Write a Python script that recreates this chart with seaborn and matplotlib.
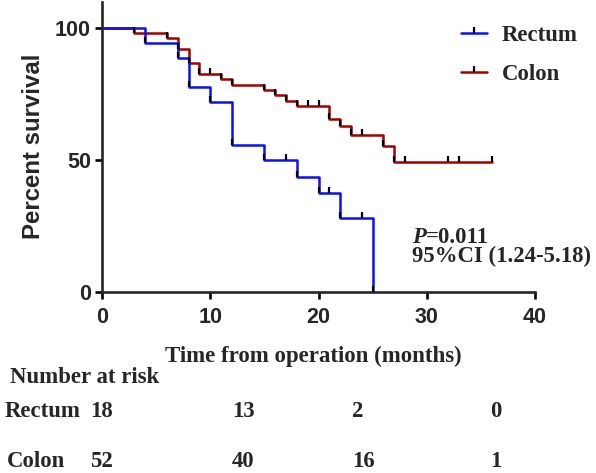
import pandas as pd
import seaborn as sns
import matplotlib.pyplot as plt
import matplotlib.transforms as mtransforms
from matplotlib.lines import Line2D

# Kaplan-Meier steps (months, percent survival)
rectum_months = [0, 4, 7, 8, 10, 12, 15, 17, 18, 20, 21, 22, 24, 25]
rectum_survival = [100, 94.4, 88.9, 77.8, 72.2, 55.6, 50.0, 50.0, 43.8, 37.5, 37.5, 28.1, 28.1, 0]

colon_months = [0, 3, 6, 7, 8, 9, 10, 11, 12, 15, 16, 17, 18, 19, 20, 21, 22, 23, 24,
                26, 27, 28, 32, 33, 36]
colon_survival = [100, 98.1, 96.2, 92.3, 86.9, 82.7, 82.7, 80.7, 78.7, 76.7, 74.7, 72.6,
                  70.6, 70.6, 70.6, 65.7, 62.9, 59.4, 59.4, 55.3, 49.4, 49.4, 49.4, 49.4, 49.4]

groups = ['Rectum', 'Colon']
group_colors = {'Rectum': '#0a10f2', 'Colon': '#a10000'}

# number at risk table
rectum_at_risk = ['18', '13', '2', '0']
colon_at_risk = ['52', '40', '16', '1']

p_text = '=0.011'
ci_text = '95%CI (1.24-5.18)'

sns.set_style('ticks')
plt.rcParams['font.family'] = ['Liberation Sans', 'DejaVu Sans']
serif = ['Liberation Serif', 'DejaVu Serif']

df = pd.concat([
    pd.DataFrame({'month': rectum_months, 'survival': rectum_survival, 'group': 'Rectum'}),
    pd.DataFrame({'month': colon_months, 'survival': colon_survival, 'group': 'Colon'}),
])

fig = plt.figure(figsize=(5.96, 4.73), dpi=100)
ax = fig.add_axes([102 / 596, 1 - 292 / 473, (535 - 102) / 596, 290 / 473])

# curves (colon first so rectum sits on top)
sns.lineplot(data=df, x='month', y='survival', hue='group', hue_order=['Colon', 'Rectum'],
             palette=group_colors, estimator=None, drawstyle='steps-post', linewidth=1.8,
             legend=False, ax=ax)

# black tick marks at every event / censor point
for g in ['Colon', 'Rectum']:
    sub = df[df['group'] == g].iloc[1:]
    ax.plot(sub['month'], sub['survival'], linestyle='none', marker=2, markersize=4,
            markeredgewidth=1.6, color='black', zorder=5)

ax.set_xlim(0, 40)
ax.set_ylim(0, 110)
ax.set_xticks([0, 10, 20, 30, 40])
ax.set_yticks([0, 50, 100])
sns.despine(ax=ax)
for s in ['left', 'bottom']:
    ax.spines[s].set_linewidth(1.9)
ax.tick_params(length=5, width=1.9, labelsize=15.5, color='black')
ax.tick_params(axis='x', pad=6)
ax.tick_params(axis='y', pad=3)
for lab in ax.get_xticklabels() + ax.get_yticklabels():
    lab.set_fontweight('bold')

# axis labels
ax.set_ylabel('Percent survival', fontsize=17.3, fontweight='bold')
ax.yaxis.set_label_coords(34 / 596, 1 - 146 / 473, transform=fig.transFigure)
ax.yaxis.label.set_verticalalignment('center')

ax.set_xlabel('Time from operation (months)', fontsize=16.5, fontweight='bold', family=serif)
ax.xaxis.set_label_coords(313 / 596, 1 - 362 / 473, transform=fig.transFigure)
ax.xaxis.label.set_verticalalignment('baseline')

# legend
handles = [Line2D([], [], color=group_colors[g], linewidth=1.8, marker=2, markersize=4,
                  markeredgewidth=1.6, markeredgecolor='black') for g in groups]
ax.legend(handles, groups, loc='upper left', bbox_to_anchor=(461 / 596, 1 - 25 / 473),
          bbox_transform=fig.transFigure, frameon=False, borderpad=0, borderaxespad=0,
          handlelength=1.15, handletextpad=0.65, labelspacing=0.8,
          prop={'family': serif, 'weight': 'bold', 'size': 16.4})

# P value and CI
ptxt = fig.text(412 / 596, 1 - 242.5 / 473, 'P', family=serif, fontweight='bold',
                style='italic', fontsize=16.4, va='baseline')
ax.annotate(p_text, xy=(1, 0), xycoords=ptxt, va='bottom', ha='left', family=serif,
            fontweight='bold', fontsize=16.4)
fig.text(412 / 596, 1 - 262 / 473, ci_text, family=serif, fontweight='bold',
         fontsize=16.4, va='baseline')

# number at risk table
trans = mtransforms.blended_transform_factory(ax.transData, fig.transFigure)
risk_cols = [-1.1, 12.0, 23.1, 35.9]
fig.text(10 / 596, 1 - 383 / 473, 'Number at risk', family=serif, fontweight='bold',
         fontsize=16.4, va='baseline')
for label, counts, xpix, ybase in [('Rectum', rectum_at_risk, 5, 417),
                                   ('Colon', colon_at_risk, 7, 467)]:
    fig.text(xpix / 596, 1 - ybase / 473, label, family=serif, fontweight='bold',
             fontsize=16.4, va='baseline')
    for xc, c in zip(risk_cols, counts):
        ax.text(xc, 1 - ybase / 473, c, transform=trans, family=serif, fontweight='bold',
                fontsize=16.4, va='baseline', ha='left', clip_on=False)

fig.savefig('out.png', dpi=100)
